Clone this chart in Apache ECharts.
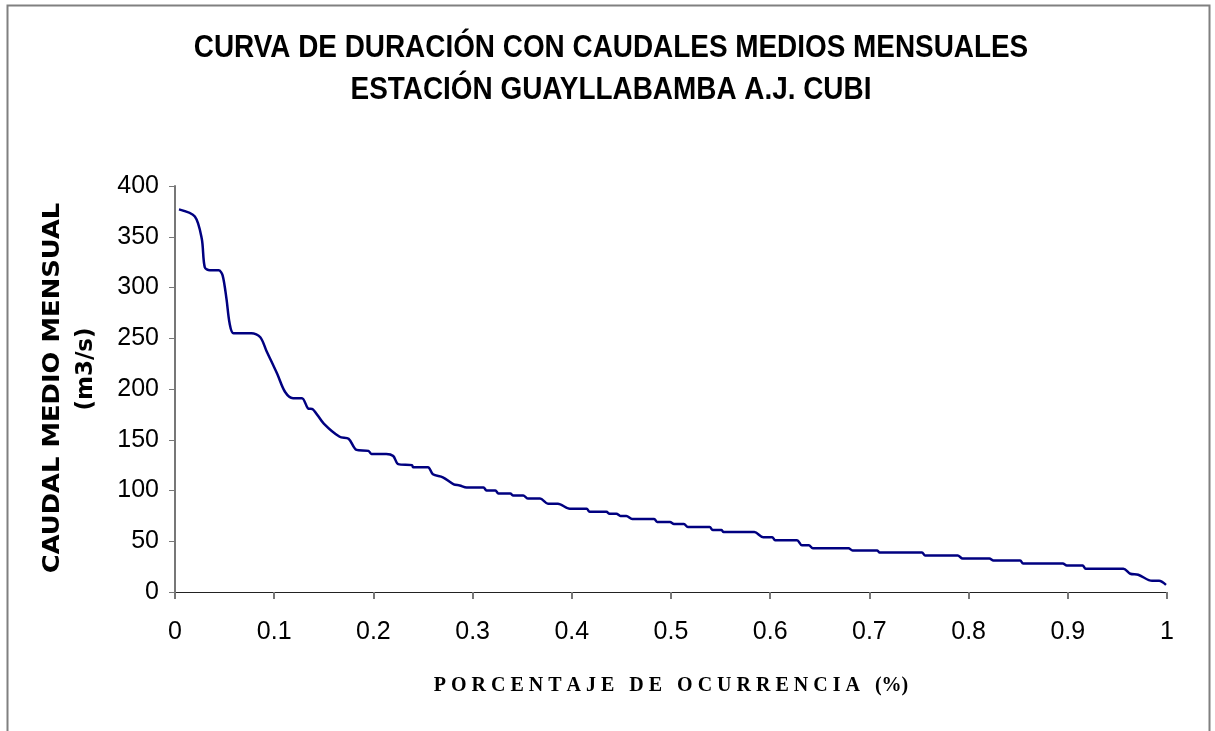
<!DOCTYPE html>
<html lang="es">

<head>
    <meta charset="UTF-8">
    <title>Curva de duración</title>
    <style>
        html, body { margin: 0; padding: 0; background: #fff; }
        #main { width: 1215px; height: 731px; }
    </style>
</head>

<body>
    <div id="main"></div>

    <script src="https://cdn.jsdelivr.net/npm/echarts@6/dist/echarts.min.js"></script>
    <script>
        // porcentaje de ocurrencia (0..1)
        var ocurrencia = [0.004, 0.020, 0.027, 0.030, 0.035, 0.044, 0.048, 0.052, 0.055, 0.059,
            0.077, 0.086, 0.092, 0.103, 0.111, 0.119, 0.128, 0.134, 0.139, 0.150,
            0.166, 0.175, 0.183, 0.195, 0.198, 0.213, 0.220, 0.225, 0.239, 0.240,
            0.255, 0.260, 0.270, 0.281, 0.287, 0.294, 0.311, 0.314, 0.323, 0.326,
            0.338, 0.341, 0.351, 0.356, 0.368, 0.376, 0.386, 0.398, 0.415, 0.418,
            0.435, 0.438, 0.445, 0.449, 0.455, 0.461, 0.483, 0.486, 0.499, 0.503,
            0.513, 0.517, 0.539, 0.542, 0.551, 0.553, 0.584, 0.593, 0.602, 0.605,
            0.627, 0.632, 0.639, 0.643, 0.679, 0.683, 0.708, 0.710, 0.753, 0.756,
            0.789, 0.794, 0.821, 0.825, 0.852, 0.855, 0.895, 0.899, 0.915, 0.918,
            0.956, 0.963, 0.971, 0.985, 0.992, 0.999];
        // caudal medio mensual (m3/s)
        var caudal = [377, 370, 348, 320, 317, 317, 312, 288, 265, 255,
            255, 251, 238, 215, 197, 191, 191, 181, 180, 166,
            153, 151, 140, 139, 136, 136, 134, 126, 125, 123,
            123, 116, 113, 106, 105, 103, 103, 100, 100, 97,
            97, 95, 95, 92, 92, 87, 87, 82, 82, 79,
            79, 77, 77, 75, 75, 72, 72, 69, 69, 67,
            67, 64, 64, 61, 61, 59, 59, 54, 54, 51,
            51, 46, 46, 43, 43, 41, 41, 39, 39, 36,
            36, 33, 33, 31, 31, 28, 28, 26, 26, 23,
            23, 18, 17, 11, 11, 7];

        var titulo1 = 'CURVA DE DURACIÓN CON CAUDALES MEDIOS MENSUALES';
        var titulo2 = 'ESTACIÓN GUAYLLABAMBA A.J. CUBI';
        var ejeY1 = 'CAUDAL MEDIO MENSUAL';
        var ejeY2 = '(m3/s)';
        var ejeX = 'P O R C E N T A J E   D E   O C U R R E N C I A   (%)';

        var puntos = ocurrencia.map(function (x, i) { return [x, caudal[i]]; });

        var fuenteTitulo = 'bold 31px "Liberation Sans", Arial, sans-serif';

        var myChart = echarts.init(document.getElementById('main'));
        var option = {
            backgroundColor: '#fff',
            animation: false,
            grid: { left: 175, right: 48, top: 186, bottom: 139 },
            graphic: [
                {
                    type: 'rect',
                    shape: { x: 7.5, y: 5.5, width: 1202, height: 740 },
                    style: { fill: 'none', stroke: '#808080', lineWidth: 2 }
                },
                {
                    type: 'text', x: 611, y: 48, scaleX: 0.9,
                    style: {
                        text: titulo1, align: 'center', verticalAlign: 'middle',
                        font: fuenteTitulo, fill: '#000'
                    }
                },
                {
                    type: 'text', x: 611, y: 90, scaleX: 0.9,
                    style: {
                        text: titulo2, align: 'center', verticalAlign: 'middle',
                        font: fuenteTitulo, fill: '#000'
                    }
                },
                {
                    type: 'text', x: 53, y: 388, rotation: Math.PI / 2, scaleX: 1.12,
                    style: {
                        text: ejeY1, align: 'center', verticalAlign: 'middle',
                        font: 'bold 23px "DejaVu Sans", sans-serif',
                        fill: '#000'
                    }
                },
                {
                    type: 'text', x: 86, y: 369, rotation: Math.PI / 2,
                    style: {
                        text: ejeY2, align: 'center', verticalAlign: 'middle',
                        font: 'bold 23px "DejaVu Sans", sans-serif',
                        fill: '#000'
                    }
                },
                {
                    type: 'text', x: 671, y: 686,
                    style: {
                        text: ejeX, align: 'center', verticalAlign: 'middle',
                        font: 'bold 20px "Liberation Serif", "Times New Roman", serif',
                        fill: '#000'
                    }
                }
            ],
            xAxis: {
                type: 'value',
                min: 0,
                max: 1,
                interval: 0.1,
                axisLine: { onZero: false, lineStyle: { color: '#222', width: 1 } },
                axisTick: { length: 7, lineStyle: { color: '#777', width: 2 } },
                axisLabel: {
                    color: '#000', fontSize: 25, margin: 28,
                    fontFamily: '"Liberation Sans", Arial, sans-serif',
                    formatter: function (v) { return String(Math.round(v * 10) / 10); }
                },
                splitLine: { show: false }
            },
            yAxis: {
                type: 'value',
                min: 0,
                max: 400,
                interval: 50,
                axisLine: { show: true, lineStyle: { color: '#777', width: 2 } },
                axisTick: { show: true, length: 6, lineStyle: { color: '#777', width: 1 } },
                axisLabel: {
                    color: '#000', fontSize: 25, margin: 16,
                    fontFamily: '"Liberation Sans", Arial, sans-serif'
                },
                splitLine: { show: false }
            },
            series: [
                {
                    type: 'line',
                    data: puntos,
                    showSymbol: false,
                    smooth: 0.3,
                    lineStyle: { color: '#000080', width: 2.5 }
                }
            ]
        };
        myChart.setOption(option);
    </script>
</body>

</html>
